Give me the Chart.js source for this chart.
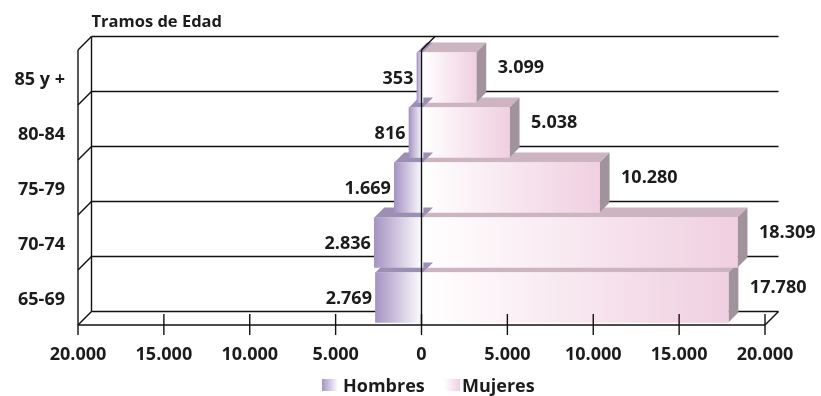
<!DOCTYPE html>
<html>
<head>
<meta charset="utf-8">
<style>
  html, body { margin: 0; padding: 0; background: #fff; }
  canvas { display: block; }
</style>
<script src="https://cdn.jsdelivr.net/npm/chart.js@4/dist/chart.umd.js"></script>
</head>
<body>
<canvas id="chart" width="821" height="396"></canvas>
<script>
const categories = ['65-69', '70-74', '75-79', '80-84', '85 y +'];
const hombres = [2769, 2836, 1669, 816, 353];
const mujeres = [17780, 18309, 10280, 5038, 3099];
const xTicks = [-20000, -15000, -10000, -5000, 0, 5000, 10000, 15000, 20000];

const font = 'bold 18px "Open Sans"';
const ink = '#1c1c1c';
const depth = 10;      // bar depth
const wall = 13.5;     // depth of the box behind the bars
const barShift = 1.5;

const fmt = (v) => Math.abs(v).toString().replace(/\B(?=(\d{3})+$)/, '.');

const barFill = (outer) => (c) => {
    const x = c.chart.scales.x;
    if (c.raw === undefined || !x) return outer;
    const x0 = x.getPixelForValue(0);
    const x1 = x.getPixelForValue(c.raw);
    if (!Number.isFinite(x0) || !Number.isFinite(x1)) return outer;
    const g = c.chart.ctx.createLinearGradient(x0, 0, x1, 0);
    g.addColorStop(0, '#ffffff');
    g.addColorStop(1, outer);
    return g;
};

const line = (ctx, x1, y1, x2, y2) => {
    ctx.beginPath();
    ctx.moveTo(x1, y1);
    ctx.lineTo(x2, y2);
    ctx.stroke();
};

const poly = (ctx, pts, color) => {
    ctx.fillStyle = color;
    ctx.beginPath();
    pts.forEach(([x, y], i) => i ? ctx.lineTo(x, y) : ctx.moveTo(x, y));
    ctx.closePath();
    ctx.fill();
};

const box3d = {
    id: 'box3d',
    beforeDatasetsDraw(chart) {
        const { ctx, chartArea: a, scales: { y } } = chart;
        ctx.save();
        ctx.strokeStyle = '#111';
        ctx.lineWidth = 1.4;
        // side wall and back wall
        line(ctx, a.left, a.top, a.left, a.bottom);
        line(ctx, a.left + wall, a.top - wall, a.left + wall, a.bottom - wall);
        // rows, one line per category edge
        for (let i = 0; i <= categories.length; i++) {
            const py = y.getPixelForValue(i - 0.5);
            line(ctx, a.left, py, a.left + wall, py - wall);
            line(ctx, a.left + wall, py - wall, a.right + wall, py - wall);
        }
        ctx.restore();
    },
    beforeDatasetDraw(chart, args) {
        const { ctx } = chart;
        const isMen = args.index === 0;
        const topColor = isMen ? '#9c8fb4' : '#ccb4c0';
        ctx.save();
        ctx.translate(barShift, 0);
        args.meta.data.forEach((bar) => {
            const p = bar.getProps(['x', 'y', 'base', 'height']);
            const left = Math.min(p.x, p.base);
            const right = Math.max(p.x, p.base);
            const top = p.y - p.height / 2;
            const bottom = p.y + p.height / 2;
            poly(ctx, [[left, top], [left + depth, top - depth], [right + depth, top - depth], [right, top]], topColor);
            if (!isMen) {
                poly(ctx, [[right, top], [right + depth, top - depth], [right + depth, bottom - depth], [right, bottom]], '#a0939b');
            }
            bar.draw(ctx);
        });
        ctx.restore();
        return false;
    },
    afterDatasetsDraw(chart) {
        const { ctx, chartArea: a, scales: { x } } = chart;
        ctx.save();
        ctx.strokeStyle = '#111';
        ctx.lineWidth = 1.4;
        // floor front edge, right corner, ticks, zero axis
        line(ctx, a.left, a.bottom, a.right, a.bottom);
        line(ctx, a.right, a.bottom, a.right + wall, a.bottom - wall);
        xTicks.forEach((t, i) => {
            const px = x.getPixelForValue(t);
            line(ctx, px, i === 0 ? a.bottom : a.bottom - 11, px, a.bottom + 10);
        });
        const zero = x.getPixelForValue(0);
        line(ctx, zero, a.bottom, zero, a.top);
        line(ctx, zero, a.top, zero + wall, a.top - wall);

        // value labels
        ctx.font = font;
        ctx.fillStyle = ink;
        ctx.textBaseline = 'middle';
        chart.getDatasetMeta(0).data.forEach((bar, i) => {
            ctx.textAlign = 'right';
            ctx.fillText(fmt(hombres[i]), bar.x - 2, bar.y + 1.5);
        });
        chart.getDatasetMeta(1).data.forEach((bar, i) => {
            ctx.textAlign = 'left';
            ctx.fillText(fmt(mujeres[i]), bar.x + 23, bar.y - 9.5);
        });

        // axis heading
        ctx.font = 'bold 16.5px "Open Sans"';
        ctx.textAlign = 'left';
        ctx.fillText('Tramos de Edad', a.left + wall, 22.5);

        // legend
        ctx.font = font;
        const swatch = (sx, from, to, label, tx) => {
            const g = ctx.createLinearGradient(sx, 0, sx + 16, 0);
            g.addColorStop(0, from);
            g.addColorStop(1, to);
            ctx.fillStyle = g;
            ctx.fillRect(sx, 379, 16, 12);
            ctx.fillStyle = ink;
            ctx.fillText(label, tx, 387);
        };
        swatch(322, '#a593c3', '#ffffff', 'Hombres', 343);
        swatch(444, '#ffffff', '#f0cfe0', 'Mujeres', 462);
        ctx.restore();
    }
};

new Chart(document.getElementById('chart'), {
    type: 'bar',
    data: {
        labels: categories,
        datasets: [
            {
                label: 'Hombres',
                data: hombres.map(v => -v),
                backgroundColor: barFill('#a593c3'),
                barThickness: 50,
            },
            {
                label: 'Mujeres',
                data: mujeres,
                backgroundColor: barFill('#f0cfe0'),
                barThickness: 50,
            },
        ],
    },
    plugins: [box3d],
    options: {
        indexAxis: 'y',
        responsive: false,
        animation: false,
        layout: { padding: { top: 50, right: 56, left: 0, bottom: 0 } },
        plugins: {
            legend: { display: false },
            tooltip: { enabled: false },
        },
        scales: {
            x: {
                type: 'linear',
                stacked: true,
                min: -20000,
                max: 20000,
                afterBuildTicks: (s) => { s.ticks = xTicks.map(value => ({ value })); },
                afterFit: (s) => { s.height = 71; },
                grid: { display: false },
                border: { display: false },
                ticks: {
                    autoSkip: false,
                    maxRotation: 0,
                    padding: 11,
                    color: ink,
                    font: { family: 'Open Sans', size: 18, weight: 'bold' },
                    callback: (v) => fmt(v),
                },
            },
            y: {
                stacked: true,
                reverse: true,
                afterFit: (s) => { s.width = 78; },
                grid: { display: false },
                border: { display: false },
                ticks: {
                    padding: 5,
                    labelOffset: 2,
                    color: ink,
                    font: { family: 'Open Sans', size: 18, weight: 'bold' },
                },
            },
        },
    },
});
</script>
</body>
</html>
